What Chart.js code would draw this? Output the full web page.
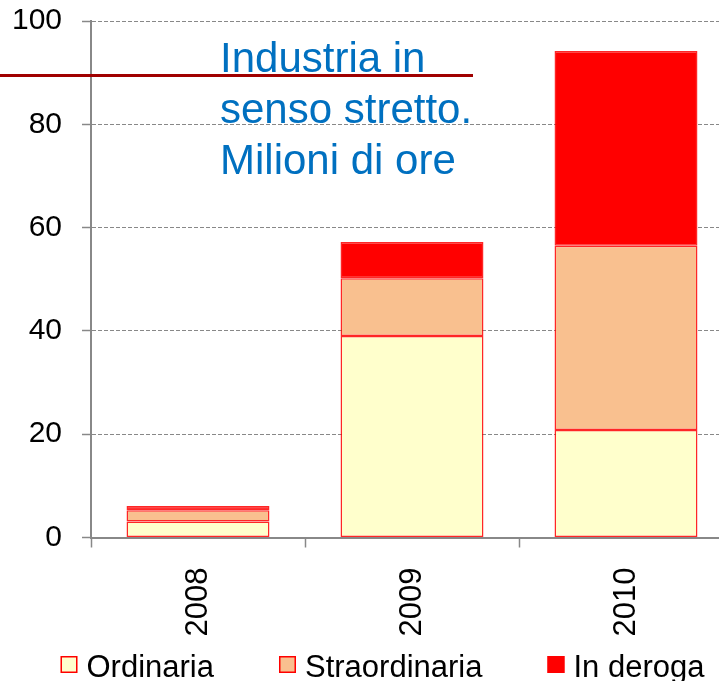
<!DOCTYPE html>
<html><head><meta charset="utf-8">
<script src="https://cdn.jsdelivr.net/npm/chart.js@4"></script>
<style>
html,body{margin:0;padding:0;overflow:hidden;background:#fff;width:719px;height:681px}
#wrap{width:735px;height:681px;position:relative}
</style></head>
<body><div id="wrap"><canvas id="c" width="735" height="681"></canvas></div>
<script>
const categories = ['2008', '2009', '2010'];
const ordinaria = [3.1, 39.0, 20.8];
const straordinaria = [2.2, 11.2, 35.7];
const inDeroga = [0.8, 7.0, 37.7];
const seriesNames = ['Ordinaria', 'Straordinaria', 'In deroga'];
const seriesColors = ['#FFFFCC', '#F9C08F', '#FF0000'];
const yMin = 0, yMax = 100, yStep = 20;
const titleLines = ['Industria in', 'senso stretto.', 'Milioni di ore'];

const FONT = '"Liberation Sans", Arial, Helvetica, sans-serif';

const overlay = {
  id: 'overlay',
  afterDraw(chart) {
    const ctx = chart.ctx;
    ctx.save();
    ctx.strokeStyle = '#A00000';
    ctx.lineWidth = 3;
    ctx.beginPath(); ctx.moveTo(0, 75.5); ctx.lineTo(473, 75.5); ctx.stroke();
    ctx.fillStyle = '#0070C0';
    ctx.font = '42px ' + FONT;
    ctx.textAlign = 'left';
    ctx.textBaseline = 'alphabetic';
    titleLines.forEach((t, i) => ctx.fillText(t, 220, 72 + i * 51));
    ctx.font = '31px ' + FONT;
    let x = 60.5;
    chart.data.datasets.forEach(ds => {
      ctx.fillStyle = ds.backgroundColor;
      ctx.fillRect(x, 656, 17, 17);
      ctx.strokeStyle = '#FF0000';
      ctx.lineWidth = 1.5;
      ctx.strokeRect(x + 0.75, 656.75, 15.5, 15.5);
      ctx.fillStyle = '#000';
      ctx.fillText(ds.label, x + 26, 677);
      x += 26 + ctx.measureText(ds.label).width + 65;
    });
    ctx.restore();
  }
};

const seriesData = [ordinaria, straordinaria, inDeroga];
new Chart(document.getElementById('c'), {
  type: 'bar',
  data: {
    labels: categories,
    datasets: seriesData.map((d, i) => ({
      label: seriesNames[i],
      data: d,
      backgroundColor: seriesColors[i],
      borderColor: 'rgba(255,0,0,0.85)',
      borderWidth: 1.5,
      borderSkipped: false,
      categoryPercentage: 1,
      barPercentage: 0.668
    }))
  },
  options: {
    responsive: false,
    animation: false,
    devicePixelRatio: 1,
    layout: { padding: { top: 21, right: 2, bottom: 43.5, left: 0 } },
    plugins: { legend: { display: false }, tooltip: { enabled: false } },
    scales: {
      x: {
        stacked: true,
        grid: { display: true, drawOnChartArea: false, drawTicks: true, offset: true, tickLength: 10, tickColor: '#888', tickWidth: 1.5 },
        border: { color: '#888', width: 2 },
        ticks: { color: '#000', font: { family: FONT, size: 31 }, padding: 20, minRotation: 90, maxRotation: 90, autoSkip: false },
        afterFit(s) { s.height = 100; }
      },
      y: {
        stacked: true,
        min: yMin, max: yMax,
        grid: { color: '#888', lineWidth: 1, tickLength: 9, tickColor: '#888', tickWidth: 1.5 },
        border: { color: '#888', width: 2, dash: [4, 2] },
        ticks: { stepSize: yStep, color: '#000', font: { family: FONT, size: 30, lineHeight: 0.5 }, padding: 20 },
        afterFit(s) { s.width = 91; s.paddingTop = 0; s.paddingBottom = 0; }
      }
    }
  },
  plugins: [overlay]
});
</script>
</body></html>
